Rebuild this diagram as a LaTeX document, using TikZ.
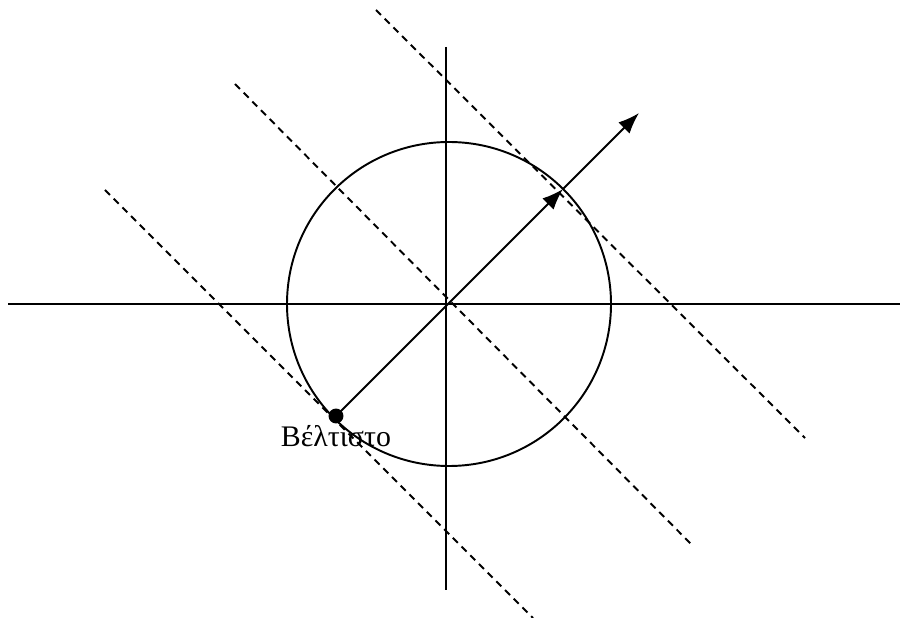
\documentclass[tikz,border=0pt]{standalone}
\usepackage{fontspec}
\setmainfont{Liberation Serif}
\usetikzlibrary{arrows.meta, positioning}
\tikzset{
	axisline/.style={line width=1.1pt}
}
\tikzset{
	levelline/.style={line width=1.1pt, dash pattern=on 4pt off 3pt}
}
\tikzset{
	gradarrow/.style={line width=1.1pt, -{Latex[length=12pt, width=9pt]}}
}
\begin{document}
\begin{tikzpicture}[x=0.02cm, y=-0.02cm, line width=1.1pt]
      \useasboundingbox (0,0) rectangle (900,618);
      % axes
      \draw[axisline] (8,304) -- (900,304);
      \draw[axisline] (446,47) -- (446,590);
      % feasible region
      \coordinate (o) at (449,304);
      \draw[axisline] (o) circle (162);
      % level lines of the objective
      \draw[levelline] (105,190) -- (533,618);
      \draw[levelline] (235,84) -- (692,545);
      \draw[levelline] (376,10) -- (805,438);
      % optimum and gradient direction
      \node[circle, fill, inner sep=0pt, minimum size=8.5pt] (opt) at (336,416) {};
      \coordinate (touch) at (563,189);
      \coordinate (tip) at (639,113);
      \draw[gradarrow] (opt.center) -- (touch);
      \draw[gradarrow] (touch) -- (tip);
      \node[font=\fontsize{17}{19}\selectfont, below=-1pt of opt, inner sep=1pt] (optlabel) {Βέλτιστο};
    \end{tikzpicture}
\end{document}
